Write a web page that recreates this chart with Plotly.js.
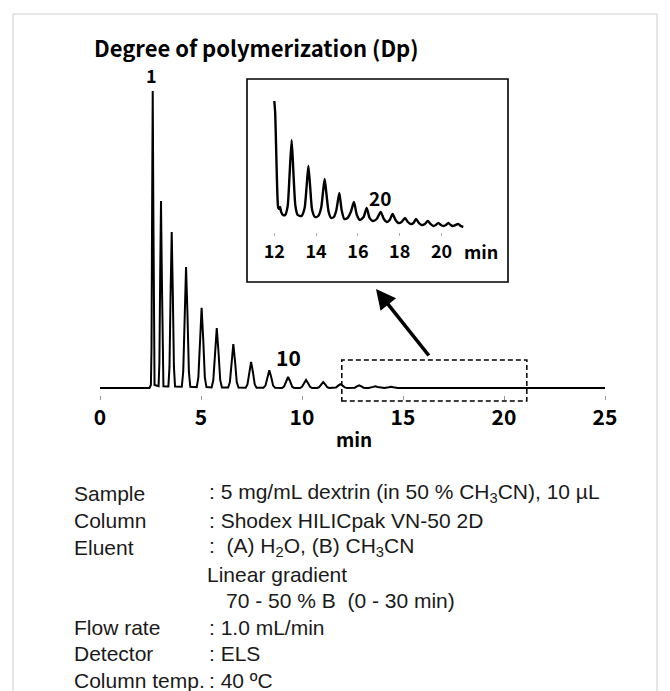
<!DOCTYPE html>
<html>
<head>
<meta charset="utf-8">
<script src="https://cdn.plot.ly/plotly-3.0.1.min.js"></script>
<style>
  html, body { margin: 0; padding: 0; background: #ffffff; }
  #chart { width: 670px; height: 691px; }
</style>
</head>
<body>
<div id="chart"></div>
<script>
// ---------------- DATA ----------------
// Main chromatogram: retention time (min) and detector signal (% of peak 1)
const mainTime = [
  0, 2.45,
  2.52, 2.55, 2.58, 2.61, 2.64, 2.67, 2.70,
  2.90, 2.94, 2.98, 3.02, 3.06, 3.10, 3.14,
  3.385, 3.44, 3.495, 3.55, 3.605, 3.66, 3.715,
  4.05, 4.12, 4.19, 4.26, 4.33, 4.40, 4.47,
  4.79, 4.87, 4.95, 5.03, 5.11, 5.19, 5.27,
  5.525, 5.61, 5.695, 5.78, 5.865, 5.95, 6.035,
  6.345, 6.43, 6.515, 6.60, 6.685, 6.77, 6.855,
  7.21, 7.30, 7.39, 7.48, 7.57, 7.66, 7.75,
  8.095, 8.19, 8.285, 8.38, 8.475, 8.57, 8.665,
  9.01, 9.11, 9.21, 9.31, 9.41, 9.51, 9.61,
  9.90, 10.00, 10.10, 10.20, 10.30, 10.40, 10.50,
  10.75, 10.85, 10.95, 11.05, 11.15, 11.25, 11.35,
  11.57, 11.68, 11.79, 11.90, 12.01, 12.12, 12.23,
  12.50, 12.61, 12.72, 12.83, 12.94, 13.05, 13.16,
  13.30, 13.52, 13.63, 13.74, 13.96,
  14.08, 14.30, 14.41, 14.52, 14.74,
  25
];
const mainSignal = [
  0, 0,
  1, 13.5, 61, 100, 61, 13.5, 1,
  0.6, 8.5, 38.4, 63, 38.4, 8.5, 0.6,
  0.5, 7.1, 32, 52.5, 32, 7.1, 0.5,
  0.4, 5.5, 24.8, 40.7, 24.8, 5.5, 0.4,
  0.3, 3.6, 16.5, 27, 16.5, 3.6, 0.3,
  0.2, 2.7, 12.3, 20.2, 12.3, 2.7, 0.2,
  0.15, 2.0, 9.0, 14.8, 9.0, 2.0, 0.15,
  0.1, 1.2, 5.4, 8.8, 5.4, 1.2, 0.1,
  0.1, 0.8, 3.7, 6.0, 3.7, 0.8, 0.1,
  0, 0.5, 2.3, 3.7, 2.3, 0.5, 0,
  0, 0.4, 1.6, 2.7, 1.6, 0.4, 0,
  0, 0.3, 1.2, 2.0, 1.2, 0.3, 0,
  0, 0.2, 0.8, 1.3, 0.8, 0.2, 0,
  0, 0.1, 0.55, 0.9, 0.55, 0.1, 0,
  0, 0.37, 0.6, 0.37, 0,
  0, 0.25, 0.4, 0.25, 0,
  0
];

// Inset (12 - 21 min, expanded signal)
const insetTime = [
  12.00, 12.04, 12.09, 12.14, 12.19, 12.24, 12.28, 12.33, 12.42, 12.52,
  12.64, 12.73, 12.83, 12.92, 13.01, 13.12, 13.30, 13.45, 13.54, 13.63,
  13.72, 13.81, 13.95, 14.10, 14.24, 14.33, 14.41, 14.50, 14.60, 14.72,
  14.85, 14.97, 15.11, 15.22, 15.35, 15.50, 15.66, 15.81, 15.95, 16.10,
  16.27, 16.42, 16.56, 16.71, 16.90, 17.09, 17.24, 17.38, 17.52, 17.66,
  17.80, 17.93, 18.09, 18.25, 18.39, 18.53, 18.66, 18.78, 18.92, 19.05,
  19.20, 19.34, 19.48, 19.61, 19.73, 19.85, 19.97, 20.09, 20.21, 20.33,
  20.44, 20.54, 20.67, 20.80, 20.92, 21.04
];
const insetSignal = [
  129, 118, 80, 40, 22, 21, 23, 18, 15, 15,
  24, 55, 90, 55, 24, 15, 14, 22, 42, 64,
  42, 20, 13, 14, 22, 38, 51, 35, 18, 12,
  13, 20, 37, 20, 11, 12, 18, 28, 15, 10,
  13, 22, 12, 9, 11, 18, 11, 8, 10, 16,
  10, 7, 8, 12, 8, 6, 7, 11, 7, 5,
  6, 9, 6, 4, 5, 7, 5, 4, 5, 7,
  5, 4, 5, 6, 4, 3
];

const mainTicks = [0, 5, 10, 15, 20, 25];
const insetTicks = [12, 14, 16, 18, 20];
const zoomWindow = [11.97, 21.13];           // dashed box, min
const peakLabelText = ['1', '10', '20'];
const peakLabelTime = [2.57, 9.31, 17.06];

const titleText = 'Degree of polymerization (Dp)';
const axisUnit = 'min';

const condLabels = ['Sample', 'Column', 'Eluent', '', '', 'Flow rate', 'Detector', 'Column temp.'];
const condValues = [
  ': 5 mg/mL dextrin (in 50 % CH<sub>3</sub>CN), 10 µL',
  ': Shodex HILICpak VN-50 2D',
  ':\u00a0 (A) H<sub>2</sub>O, (B) CH<sub>3</sub>CN',
  'Linear gradient',
  '70 - 50 % B \u00a0(0 - 30 min)',
  ': 1.0 mL/min',
  ': ELS',
  ': 40 ºC'
];

// ---------------- LAYOUT helpers (pixel -> paper) ----------------
const W = 670, H = 691;
const px = v => v / W;
const py = v => 1 - v / H;

const gothic = '"Noto Sans CJK JP", "Noto Sans", sans-serif';
const arial = '"Liberation Sans", Arial, sans-serif';

const traces = [
  {
    x: mainTime, y: mainSignal, type: 'scatter', mode: 'lines',
    line: { color: '#000', width: 2 }, xaxis: 'x', yaxis: 'y', hoverinfo: 'skip'
  },
  {
    x: insetTime, y: insetSignal, type: 'scatter', mode: 'lines',
    line: { color: '#000', width: 2.4, shape: 'spline', smoothing: 0.6 },
    xaxis: 'x2', yaxis: 'y2', hoverinfo: 'skip'
  }
];

const annotations = [];
// title
annotations.push({
  text: titleText, xref: 'paper', yref: 'paper', x: px(92), y: py(47),
  xanchor: 'left', yanchor: 'middle', showarrow: false,
  font: { family: gothic, size: 22, color: '#000', weight: 'bold' }
});
// peak labels
annotations.push({
  text: peakLabelText[0], xref: 'x', yref: 'paper', x: peakLabelTime[0], y: py(75),
  xanchor: 'center', yanchor: 'middle', showarrow: false,
  font: { family: gothic, size: 18, color: '#000', weight: 'bold' }
});
annotations.push({
  text: peakLabelText[1], xref: 'x', yref: 'paper', x: peakLabelTime[1], y: py(357),
  xanchor: 'center', yanchor: 'middle', showarrow: false,
  font: { family: gothic, size: 21, color: '#000', weight: 'bold' }
});
annotations.push({
  text: peakLabelText[2], xref: 'x2', yref: 'paper', x: peakLabelTime[2], y: py(197),
  xanchor: 'center', yanchor: 'middle', showarrow: false,
  font: { family: gothic, size: 19, color: '#000', weight: 'bold' }
});
// axis unit labels
annotations.push({
  text: axisUnit, xref: 'paper', yref: 'paper', x: px(354), y: py(438),
  xanchor: 'center', yanchor: 'middle', showarrow: false,
  font: { family: gothic, size: 19, color: '#000', weight: 'bold' }
});
annotations.push({
  text: axisUnit, xref: 'paper', yref: 'paper', x: px(462), y: py(251),
  xanchor: 'left', yanchor: 'middle', showarrow: false,
  font: { family: gothic, size: 18, color: '#000', weight: 'bold' }
});
// arrow
annotations.push({
  text: '', xref: 'paper', yref: 'paper', x: px(376), y: py(289),
  ax: 54, ay: 68, showarrow: true, arrowhead: 2, arrowsize: 1.1,
  arrowwidth: 3.6, arrowcolor: '#000', standoff: 0
});
// conditions
const lineY = [493, 520, 547, 574, 600, 627, 653, 680];
const valueX = [207, 207, 207, 205, 224, 207, 207, 207];
condLabels.forEach((lab, i) => {
  if (lab) annotations.push({
    text: lab, xref: 'paper', yref: 'paper', x: px(72), y: py(lineY[i]),
    xanchor: 'left', yanchor: 'middle', showarrow: false,
    font: { family: arial, size: 21, color: '#1a1a1a' }
  });
  annotations.push({
    text: condValues[i], xref: 'paper', yref: 'paper', x: px(valueX[i]), y: py(lineY[i]),
    xanchor: 'left', yanchor: 'middle', showarrow: false,
    font: { family: arial, size: 21, color: '#1a1a1a' }
  });
});

const shapes = [
  // outer light frame
  { type: 'rect', xref: 'paper', yref: 'paper', x0: px(13), x1: px(657), y0: -0.05, y1: py(14),
    line: { color: '#cccccc', width: 1 }, fillcolor: 'rgba(0,0,0,0)' },
  // inset box
  { type: 'rect', xref: 'paper', yref: 'paper', x0: px(247), x1: px(508), y0: py(282), y1: py(79),
    line: { color: '#000', width: 1.6 }, fillcolor: 'rgba(0,0,0,0)' },
  // dashed zoom window
  { type: 'rect', xref: 'x', yref: 'paper', x0: zoomWindow[0], x1: zoomWindow[1], y0: py(401), y1: py(360),
    line: { color: '#000', width: 1.5, dash: '5px,3px' }, fillcolor: 'rgba(0,0,0,0)' }
];

// main y: value 0 at py 388, 100 at py 91 (297 px)
const u = 100 / 297;
const layout = {
  width: W, height: H,
  margin: { l: 0, r: 0, t: 0, b: 0, pad: 0 },
  paper_bgcolor: '#ffffff', plot_bgcolor: 'rgba(0,0,0,0)',
  showlegend: false, hovermode: false,
  xaxis: {
    domain: [px(100), px(605)], range: [0, 25], anchor: 'y',
    tickmode: 'array', tickvals: mainTicks, ticktext: mainTicks.map(String),
    ticks: 'outside', ticklen: 4, tickwidth: 1, tickcolor: '#999',
    showline: false, showgrid: false, zeroline: false,
    tickfont: { family: gothic, size: 21, color: '#000', weight: 'bold' }
  },
  yaxis: {
    domain: [py(395), py(85)], range: [-7 * u, 100 + 6 * u], anchor: 'x',
    visible: false, showgrid: false, zeroline: false
  },
  xaxis2: {
    domain: [px(268.03), px(466.6)], range: [11.7, 21.2], anchor: 'y2',
    tickmode: 'array', tickvals: insetTicks, ticktext: insetTicks.map(String),
    ticks: 'outside', ticklen: 3, tickwidth: 1, tickcolor: '#aaa',
    showline: false, showgrid: false, zeroline: false,
    tickfont: { family: gothic, size: 18, color: '#000', weight: 'bold' }
  },
  yaxis2: {
    domain: [py(232), py(98)], range: [-2, 132], anchor: 'x2',
    visible: false, showgrid: false, zeroline: false
  },
  annotations: annotations,
  shapes: shapes
};

Plotly.newPlot('chart', traces, layout, { staticPlot: true, displayModeBar: false });
</script>
</body>
</html>
